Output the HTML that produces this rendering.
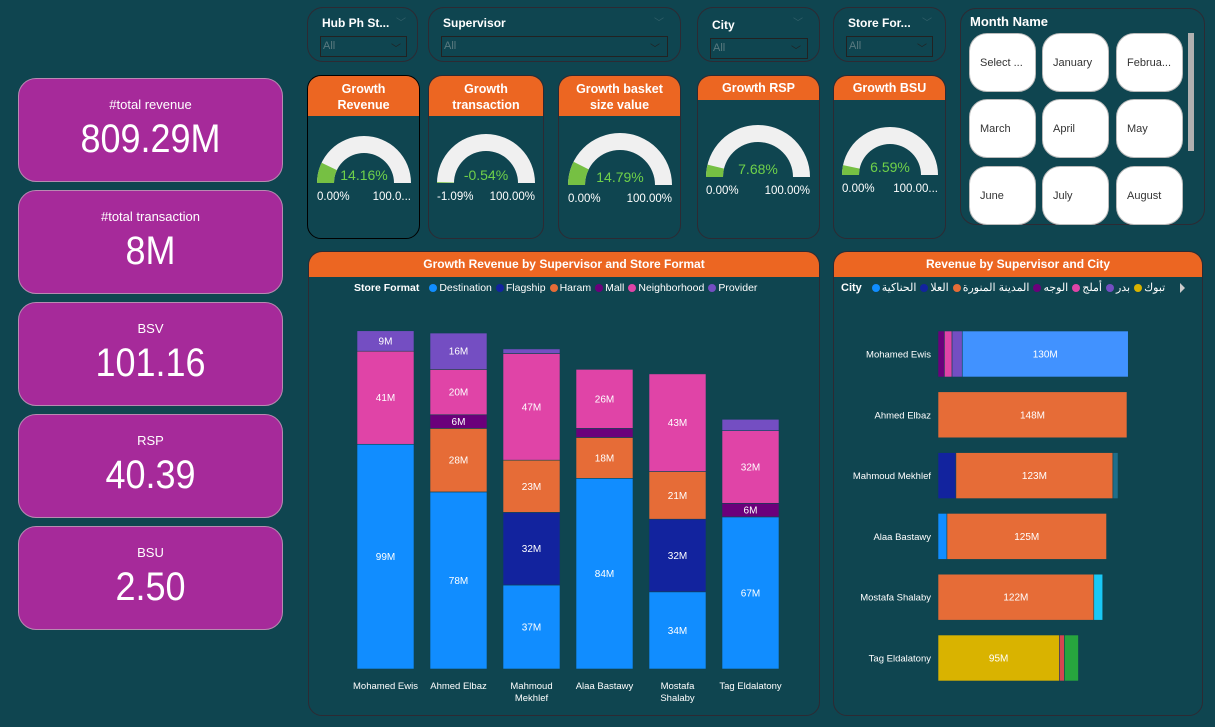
<!DOCTYPE html>
<html><head><meta charset="utf-8">
<style>
*{box-sizing:border-box;margin:0;padding:0}
body{width:1215px;height:727px;background:#0f4550;font-family:"Liberation Sans","Noto Sans CJK SC",sans-serif;color:#fff;position:relative;overflow:hidden}
.abs{position:absolute}
.card{position:absolute;left:18px;width:265px;height:104px;background:#a62a9a;border:1px solid #b88ab2;border-radius:18px;text-align:center}
.card .t{font-size:13px;margin-top:18px}
.card .v{font-size:40px;margin-top:5px;transform:scaleX(0.9)}
.panel{position:absolute;border:1px solid #2d2a33;border-radius:16px}
.filt .lab{position:absolute;left:14px;top:8px;font-size:12px;font-weight:bold}
.dd{position:absolute;border:1px solid #222;height:21px;font-size:11px;color:#5a7a80;padding:3px 2px}
.chev{position:absolute;font-size:10px;color:#33606a}
.gp{position:absolute;top:75px;height:164px;border:1px solid #2d2a33;border-radius:14px;overflow:hidden}
.gh{background:#ec6622;text-align:center;font-weight:bold;font-size:12.5px;line-height:16px;padding-top:5px}
.mb{position:absolute;width:67px;height:59px;background:#fff;border:1px solid #bbb;border-radius:18px;color:#333;font-size:11px;padding:23px 0 0 10px}
.ch{position:absolute;top:251px;height:465px;border:1px solid #2d2a33;border-radius:14px;overflow:hidden}
.chh{height:25px;background:#ec6622;text-align:center;font-weight:bold;font-size:12px;line-height:25px}
.leg{position:absolute;display:flex;align-items:center;font-size:10.5px;white-space:nowrap}
.leg b{margin-right:6px}
.leg i{display:inline-block;width:8px;height:8px;border-radius:50%;margin:0 2px 0 4px}
</style></head><body>
<div class="card" style="top:78px"><div class="t">#total revenue</div><div class="v">809.29M</div></div>
<div class="card" style="top:190px"><div class="t">#total transaction</div><div class="v">8M</div></div>
<div class="card" style="top:302px"><div class="t">BSV</div><div class="v">101.16</div></div>
<div class="card" style="top:414px"><div class="t">RSP</div><div class="v">40.39</div></div>
<div class="card" style="top:526px"><div class="t">BSU</div><div class="v">2.50</div></div>

<div class="panel filt" style="left:307px;top:7px;width:111px;height:55px"><div class="lab">Hub Ph St...</div><span class="chev" style="left:88px;top:6px">﹀</span><div class="dd" style="left:12px;top:28px;width:87px">All<span class="chev" style="left:70px;top:3px;color:#222">﹀</span></div></div>
<div class="panel filt" style="left:428px;top:7px;width:253px;height:55px"><div class="lab">Supervisor</div><span class="chev" style="left:225px;top:6px">﹀</span><div class="dd" style="left:12px;top:28px;width:227px">All<span class="chev" style="left:208px;top:3px;color:#222">﹀</span></div></div>
<div class="panel filt" style="left:697px;top:7px;width:123px;height:55px"><div class="lab" style="top:10px">City</div><span class="chev" style="left:95px;top:6px">﹀</span><div class="dd" style="left:12px;top:30px;width:98px">All<span class="chev" style="left:80px;top:3px;color:#222">﹀</span></div></div>
<div class="panel filt" style="left:833px;top:7px;width:113px;height:55px"><div class="lab">Store For...</div><span class="chev" style="left:88px;top:6px">﹀</span><div class="dd" style="left:12px;top:28px;width:87px">All<span class="chev" style="left:70px;top:3px;color:#222">﹀</span></div></div>

<div class="panel" style="left:960px;top:8px;width:245px;height:217px">
<div class="abs" style="left:9px;top:5px;font-size:13px;font-weight:bold">Month Name</div>
<div class="abs" style="left:227px;top:24px;width:6px;height:118px;background:#b0b0b0"></div>
</div>
<div class="mb" style="left:969px;top:33px">Select ...</div>
<div class="mb" style="left:1042px;top:33px">January</div>
<div class="mb" style="left:1116px;top:33px">Februa...</div>
<div class="mb" style="left:969px;top:99px">March</div>
<div class="mb" style="left:1042px;top:99px">April</div>
<div class="mb" style="left:1116px;top:99px">May</div>
<div class="mb" style="left:969px;top:166px">June</div>
<div class="mb" style="left:1042px;top:166px">July</div>
<div class="mb" style="left:1116px;top:166px">August</div>

<div class="gp" style="left:307px;width:113px;border-color:#000"><div class="gh" style="height:40px">Growth<br>Revenue</div></div>
<div class="gp" style="left:428px;width:116px"><div class="gh" style="height:40px">Growth<br>transaction</div></div>
<div class="gp" style="left:558px;width:123px"><div class="gh" style="height:40px">Growth basket<br>size value</div></div>
<div class="gp" style="left:697px;width:123px"><div class="gh" style="height:24px;padding-top:4px">Growth RSP</div></div>
<div class="gp" style="left:833px;width:113px"><div class="gh" style="height:24px;padding-top:4px">Growth BSU</div></div>

<svg id="gauges" class="abs" style="left:0;top:0" width="1215" height="250"></svg>

<div class="ch" style="left:308px;width:512px"><div class="chh">Growth Revenue by Supervisor and Store Format</div></div>
<div class="ch" style="left:833px;width:370px"><div class="chh">Revenue by Supervisor and City</div></div>

<div class="leg" style="left:354px;top:282px"><b>Store Format</b>
<i style="background:#118dff"></i>Destination<i style="background:#12239e"></i>Flagship<i style="background:#e66c37"></i>Haram<i style="background:#6b007b"></i>Mall<i style="background:#e044a7"></i>Neighborhood<i style="background:#744ec2"></i>Provider</div>
<div class="leg" style="left:841px;top:281px;font-size:11px"><b>City</b>
<i style="background:#118dff"></i><span dir="rtl">الحناكية</span><i style="background:#12239e"></i><span dir="rtl">العلا</span><i style="background:#e66c37"></i><span dir="rtl">المدينة المنورة</span><i style="background:#6b007b"></i><span dir="rtl">الوجه</span><i style="background:#e044a7"></i><span dir="rtl">أملج</span><i style="background:#744ec2"></i><span dir="rtl">بدر</span><i style="background:#d9b300"></i><span dir="rtl">تبوك</span></div>

<svg id="vchart" class="abs" style="left:0;top:0" width="1215" height="727"></svg>

<script>
// Gauges
const gaugeValues=[14.16,-0.54,14.79,7.68,6.59];
const gaugeMins=[0,-1.09,0,0,0];
const gaugeMax=[100,100,100,100,100];
const gaugeMinLabels=["0.00%","-1.09%","0.00%","0.00%","0.00%"];
const gaugeMaxLabels=["100.0...","100.00%","100.00%","100.00%","100.00..."];
const geo=[[364,183,47],[486,183,49],[620,185,52],[758,177,52],[890,175,48]];
const NS="http://www.w3.org/2000/svg";
function mk(p,tag,at){const e=document.createElementNS(NS,tag);for(const k in at)e.setAttribute(k,at[k]);p.appendChild(e);return e;}
function arc(cx,cy,r,ir,a0,a1){const P=(rr,a)=>[cx-rr*Math.cos(a),cy-rr*Math.sin(a)];const[p1,p2,p3,p4]=[P(r,a0),P(r,a1),P(ir,a1),P(ir,a0)];return `M${p1}A${r},${r} 0 0 1 ${p2}L${p3}A${ir},${ir} 0 0 0 ${p4}Z`;}
const gs=document.getElementById('gauges');
gaugeValues.forEach((v,i)=>{const[cx,cy,r]=geo[i];const ir=r-17;
 const bg=mk(gs,'path',{d:arc(cx,cy,r,ir,0,Math.PI),fill:'#f0f0f0'});
 
 
 const f=(v-gaugeMins[i])/(gaugeMax[i]-gaugeMins[i]);
 const fg=mk(gs,'path',{d:arc(cx,cy,r,ir,0,Math.max(f,0.005)*Math.PI),fill:'#76c043'});
 
 
 const t=mk(gs,'text',{x:cx,y:cy-3,'text-anchor':'middle',fill:'#6fd14a','font-size':14,'font-family':'Liberation Sans'});t.textContent=v.toFixed(2)+'%';
 
 
 const a=mk(gs,'text',{x:cx-r,y:cy+17,fill:'#fff','font-size':11.5,'font-family':'Liberation Sans'});a.textContent=gaugeMinLabels[i];
 
 
 const b=mk(gs,'text',{x:cx+r,y:cy+17,fill:'#fff','font-size':11.5,'text-anchor':'end','font-family':'Liberation Sans'});b.textContent=gaugeMaxLabels[i];
 
 
});

// Vertical stacked chart
const supervisors=["Mohamed Ewis","Ahmed Elbaz","Mahmoud Mekhlef","Alaa Bastawy","Mostafa Shalaby","Tag Eldalatony"];
const destination=[99,78,37,84,34,67];
const flagship=[0,0,32,0,32,0];
const haram=[0,28,23,18,21,0];
const mall=[0,6,0,4,0,6];
const neighborhood=[41,20,47,26,43,32];
const provider=[9,16,2,0,0,5];
const fmtColors=["#118dff","#12239e","#e66c37","#6b007b","#e044a7","#744ec2"];
const sv=document.getElementById('vchart');
const yBase=669,yScale=2.27,x0=357,step=73,bw=57;
const Y=v=>yBase-v*yScale, X=i=>x0+i*step;
const vser=[destination,flagship,haram,mall,neighborhood,provider];
supervisors.forEach((s,i)=>{let acc=0;
 vser.forEach((ser,k)=>{const v=ser[i];if(!v)return;
  const r=mk(sv,'rect',{x:X(i),y:Y(acc+v),width:bw,height:v*yScale,fill:fmtColors[k],stroke:'#0f4550','stroke-width':0.6});
  
  
  if(v>=6){const t=mk(sv,'text',{x:X(i)+bw/2,y:Y(acc+v/2)+3.5,'text-anchor':'middle','font-size':10,fill:'#fff','font-family':'Liberation Sans'});t.textContent=v+'M';
   
   }
  acc+=v;});
 const two=(i==2||i==4);
 const lines=two?s.split(' '):[s];
 lines.forEach((ln,j)=>{const t=mk(sv,'text',{x:X(i)+bw/2,y:689+j*12,'text-anchor':'middle','font-size':9.5,fill:'#fff','font-family':'Liberation Sans'});t.textContent=ln;
  
  });
});

// Horizontal stacked chart
const cityColors=["#6b007b","#e044a7","#744ec2","#12239e","#118dff","#e66c37","#4192ff","#1f6e8a","#1ac8f5","#d9b300","#d64550","#27a53e"];
const hWajh=[5,0,0,0,0,0];
const hAmlaj=[6,0,0,0,0,0];
const hBadr=[8,0,0,0,0,0];
const hAlula=[0,0,14,0,0,0];
const hHanakia=[0,0,0,7,0,0];
const hMadinah=[0,148,123,125,122,0];
const hOtherA=[130,0,0,0,0,0];
const hOtherB=[0,0,4,0,0,0];
const hOtherC=[0,0,0,0,7,0];
const hTabuk=[0,0,0,0,0,95];
const hOtherD=[0,0,0,0,0,4];
const hOtherE=[0,0,0,0,0,11];
const hser=[hWajh,hAmlaj,hBadr,hAlula,hHanakia,hMadinah,hOtherA,hOtherB,hOtherC,hTabuk,hOtherD,hOtherE];
const hx0=938,hScale=1.277,rowY0=354,rowStep=60.8,bh=46;
const HX=v=>hx0+v*hScale, HY=i=>rowY0+i*rowStep;
const ar=mk(sv,'path',{d:'M1180,283 L1185,288 L1180,293Z',fill:'#ccc'});


supervisors.forEach((s,i)=>{let acc=0;
 hser.forEach((ser,k)=>{const v=ser[i];if(!v)return;
  const r=mk(sv,'rect',{x:HX(acc),y:HY(i)-bh/2,width:v*hScale,height:bh,fill:cityColors[k],stroke:'#0f4550','stroke-width':0.6});
  
  
  if(v>=50){const t=mk(sv,'text',{x:HX(acc+v/2),y:HY(i)+3.5,'text-anchor':'middle','font-size':10,fill:'#fff','font-family':'Liberation Sans'});t.textContent=v+'M';
   
   }
  acc+=v;});
 const t=mk(sv,'text',{x:931,y:HY(i)+3.5,'text-anchor':'end','font-size':9.5,fill:'#fff','font-family':'Liberation Sans'});t.textContent=s;
 
 
});
</script>
</body></html>
